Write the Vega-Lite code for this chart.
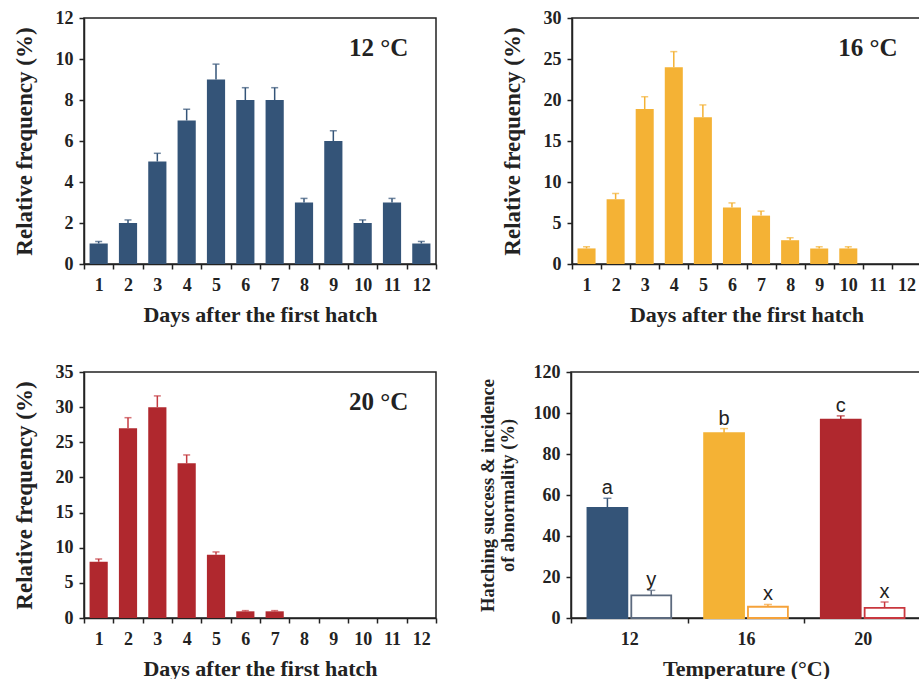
{
  "$schema": "https://vega.github.io/schema/vega-lite/v6.json",
  "padding": {"left": 12, "top": 8, "right": 0, "bottom": 0},
  "background": "white",
  "datasets": {
    "t12": [
      {"day": 1, "freq": 1, "upper": 1.1},
      {"day": 2, "freq": 2, "upper": 2.15},
      {"day": 3, "freq": 5, "upper": 5.4},
      {"day": 4, "freq": 7, "upper": 7.55},
      {"day": 5, "freq": 9, "upper": 9.75},
      {"day": 6, "freq": 8, "upper": 8.6},
      {"day": 7, "freq": 8, "upper": 8.6},
      {"day": 8, "freq": 3, "upper": 3.2},
      {"day": 9, "freq": 6, "upper": 6.5},
      {"day": 10, "freq": 2, "upper": 2.15},
      {"day": 11, "freq": 3, "upper": 3.2},
      {"day": 12, "freq": 1, "upper": 1.1}
    ],
    "t16": [
      {"day": 1, "freq": 1.9, "upper": 2.1},
      {"day": 2, "freq": 7.9, "upper": 8.6},
      {"day": 3, "freq": 18.9, "upper": 20.4},
      {"day": 4, "freq": 24, "upper": 25.9},
      {"day": 5, "freq": 17.9, "upper": 19.4},
      {"day": 6, "freq": 6.9, "upper": 7.45},
      {"day": 7, "freq": 5.9, "upper": 6.45},
      {"day": 8, "freq": 2.9, "upper": 3.2},
      {"day": 9, "freq": 1.9, "upper": 2.1},
      {"day": 10, "freq": 1.9, "upper": 2.1},
      {"day": 11, "freq": 0, "upper": 0},
      {"day": 12, "freq": 0, "upper": 0}
    ],
    "t20": [
      {"day": 1, "freq": 8, "upper": 8.4},
      {"day": 2, "freq": 27, "upper": 28.5},
      {"day": 3, "freq": 30, "upper": 31.6},
      {"day": 4, "freq": 22, "upper": 23.2},
      {"day": 5, "freq": 9, "upper": 9.4},
      {"day": 6, "freq": 0.95, "upper": 1.05},
      {"day": 7, "freq": 0.95, "upper": 1.05},
      {"day": 8, "freq": 0, "upper": 0},
      {"day": 9, "freq": 0, "upper": 0},
      {"day": 10, "freq": 0, "upper": 0},
      {"day": 11, "freq": 0, "upper": 0},
      {"day": 12, "freq": 0, "upper": 0}
    ],
    "hatch": [
      {"temp": 12, "grp": "success", "key": "12s", "value": 53.7, "upper": 58.4, "letter": "a"},
      {"temp": 12, "grp": "abnormal", "key": "12a", "value": 11, "upper": 13.5, "letter": "y"},
      {"temp": 16, "grp": "success", "key": "16s", "value": 90.2, "upper": 92.4, "letter": "b"},
      {"temp": 16, "grp": "abnormal", "key": "16a", "value": 5.5, "upper": 6.6, "letter": "x"},
      {"temp": 20, "grp": "success", "key": "20s", "value": 96.8, "upper": 98.6, "letter": "c"},
      {"temp": 20, "grp": "abnormal", "key": "20a", "value": 4.9, "upper": 7.8, "letter": "x"}
    ]
  },
  "vconcat": [
    {
      "spacing": 62,
      "hconcat": [
        {
          "width": 352, "height": 246,
          "view": {"stroke": "#222", "strokeWidth": 1.5},
          "data": {"name": "t12"},
          "encoding": {"x": {"field": "day", "type": "ordinal", "scale": {"paddingInner": 0, "paddingOuter": 0}, "axis": {"title": "Days after the first hatch"}}},
          "layer": [
            {"mark": {"type": "bar", "width": {"band": 0.62}, "color": "#345478"},
             "encoding": {"y": {"field": "freq", "type": "quantitative", "scale": {"domain": [0, 12], "nice": false}, "axis": {"title": "Relative frequency (%)", "values": [0, 2, 4, 6, 8, 10, 12], "labelOverlap": false}}}},
            {"transform": [{"filter": "datum.freq > 0"}], "mark": {"type": "rule", "color": "#345478", "strokeWidth": 1.5},
             "encoding": {"y": {"field": "freq", "type": "quantitative"}, "y2": {"field": "upper"}}},
            {"transform": [{"filter": "datum.freq > 0"}], "mark": {"type": "tick", "color": "#345478", "size": 7, "thickness": 1.5},
             "encoding": {"y": {"field": "upper", "type": "quantitative"}}},
            {"data": {"values": [{"lab": "12 °C"}]}, "mark": {"type": "text", "font": "Liberation Serif", "fontWeight": "bold", "fontSize": 25, "align": "right", "baseline": "middle", "dx": -13, "color": "#222"},
             "encoding": {"x": {"datum": 12, "type": "ordinal"}, "y": {"datum": 10.55, "type": "quantitative"}, "text": {"field": "lab"}}}
          ]
        },
        {
          "width": 349, "height": 246,
          "view": {"stroke": "#222", "strokeWidth": 1.5},
          "data": {"name": "t16"},
          "encoding": {"x": {"field": "day", "type": "ordinal", "scale": {"paddingInner": 0, "paddingOuter": 0}, "axis": {"title": "Days after the first hatch"}}},
          "layer": [
            {"mark": {"type": "bar", "width": {"band": 0.62}, "color": "#F4B235"},
             "encoding": {"y": {"field": "freq", "type": "quantitative", "scale": {"domain": [0, 30], "nice": false}, "axis": {"title": "Relative frequency (%)", "values": [0, 5, 10, 15, 20, 25, 30], "labelOverlap": false}}}},
            {"transform": [{"filter": "datum.freq > 0"}], "mark": {"type": "rule", "color": "#F4B235", "strokeWidth": 1.5},
             "encoding": {"y": {"field": "freq", "type": "quantitative"}, "y2": {"field": "upper"}}},
            {"transform": [{"filter": "datum.freq > 0"}], "mark": {"type": "tick", "color": "#F4B235", "size": 7, "thickness": 1.5},
             "encoding": {"y": {"field": "upper", "type": "quantitative"}}},
            {"data": {"values": [{"lab": "16 °C"}]}, "mark": {"type": "text", "font": "Liberation Serif", "fontWeight": "bold", "fontSize": 25, "align": "right", "baseline": "middle", "dx": -9, "color": "#222"},
             "encoding": {"x": {"datum": 12, "type": "ordinal"}, "y": {"datum": 26.35, "type": "quantitative"}, "text": {"field": "lab"}}}
          ]
        }
      ]
    },
    {
      "spacing": 39,
      "hconcat": [
        {
          "width": 352, "height": 246,
          "view": {"stroke": "#222", "strokeWidth": 1.5},
          "data": {"name": "t20"},
          "encoding": {"x": {"field": "day", "type": "ordinal", "scale": {"paddingInner": 0, "paddingOuter": 0}, "axis": {"title": "Days after the first hatch"}}},
          "layer": [
            {"mark": {"type": "bar", "width": {"band": 0.62}, "color": "#B0282E"},
             "encoding": {"y": {"field": "freq", "type": "quantitative", "scale": {"domain": [0, 35], "nice": false}, "axis": {"title": "Relative frequency (%)", "tickCount": 8, "labelOverlap": false, "labelSeparation": 0}}}},
            {"transform": [{"filter": "datum.freq > 0"}], "mark": {"type": "rule", "color": "#C43A40", "strokeWidth": 1.5},
             "encoding": {"y": {"field": "freq", "type": "quantitative"}, "y2": {"field": "upper"}}},
            {"transform": [{"filter": "datum.freq > 0"}], "mark": {"type": "tick", "color": "#C43A40", "size": 7, "thickness": 1.5},
             "encoding": {"y": {"field": "upper", "type": "quantitative"}}},
            {"data": {"values": [{"lab": "20 °C"}]}, "mark": {"type": "text", "font": "Liberation Serif", "fontWeight": "bold", "fontSize": 25, "align": "right", "baseline": "middle", "dx": -13, "color": "#222"},
             "encoding": {"x": {"datum": 12, "type": "ordinal"}, "y": {"datum": 30.7, "type": "quantitative"}, "text": {"field": "lab"}}}
          ]
        },
        {
          "width": 350, "height": 246,
          "view": {"stroke": "#222", "strokeWidth": 1.5},
          "data": {"name": "hatch"},
          "encoding": {
            "x": {"field": "temp", "type": "ordinal", "scale": {"paddingInner": 0, "paddingOuter": 0}, "axis": {"title": "Temperature (°C)"}},
            "xOffset": {"field": "grp", "type": "nominal", "sort": ["success", "abnormal"], "scale": {"paddingInner": 0.09, "paddingOuter": 0.375}}
          },
          "layer": [
            {"mark": {"type": "bar", "strokeWidth": 1.8},
             "encoding": {
               "y": {"field": "value", "type": "quantitative", "scale": {"domain": [0, 120], "nice": false}, "axis": {"title": ["Hatching success & incidence", "of abnormality (%)"], "titleFontSize": 18.5, "titleLineHeight": 20, "minExtent": 38, "maxExtent": 38, "titlePadding": 16, "values": [0, 20, 40, 60, 80, 100, 120], "labelOverlap": false}},
               "fill": {"field": "key", "type": "nominal", "legend": null, "scale": {"domain": ["12s", "12a", "16s", "16a", "20s", "20a"], "range": ["#345478", "#FFFFFF", "#F4B235", "#FFFFFF", "#B0282E", "#FFFFFF"]}},
               "stroke": {"field": "key", "type": "nominal", "legend": null, "scale": {"domain": ["12s", "12a", "16s", "16a", "20s", "20a"], "range": ["#345478", "#5C6A7E", "#F4B235", "#F5A23A", "#B0282E", "#C9373E"]}}
             }},
            {"mark": {"type": "rule", "strokeWidth": 1.5},
             "encoding": {"y": {"field": "value", "type": "quantitative"}, "y2": {"field": "upper"},
               "stroke": {"field": "key", "type": "nominal", "legend": null}}},
            {"mark": {"type": "tick", "size": 8, "thickness": 1.5},
             "encoding": {"y": {"field": "upper", "type": "quantitative"},
               "color": {"field": "key", "type": "nominal", "legend": null, "scale": {"domain": ["12s", "12a", "16s", "16a", "20s", "20a"], "range": ["#345478", "#5C6A7E", "#F4B235", "#F5A23A", "#B0282E", "#C9373E"]}}}},
            {"mark": {"type": "text", "font": "Liberation Sans", "fontSize": 20, "baseline": "alphabetic", "dy": -4, "color": "#222"},
             "encoding": {"y": {"field": "upper", "type": "quantitative"}, "text": {"field": "letter"}}}
          ]
        }
      ]
    }
  ],
  "spacing": 36,
  "config": {
    "font": "Liberation Serif",
    "view": {"stroke": "#222", "strokeWidth": 1.5},
    "axis": {
      "labelFont": "Liberation Serif", "labelFontWeight": "bold", "labelFontSize": 18, "labelColor": "#222", "labelOverlap": false,
      "titleFont": "Liberation Serif", "titleFontWeight": "bold", "titleFontSize": 22, "titleColor": "#222",
      "domainColor": "#222", "domainWidth": 1.5, "tickColor": "#222", "tickWidth": 1.5, "tickSize": 5, "grid": false
    },
    "axisQuantitative": {"labelOverlap": false},
    "axisX": {"labelAngle": 0, "tickBand": "extent", "labelPadding": 7, "titlePadding": 10},
    "axisY": {"labelPadding": 6, "titlePadding": 14, "minExtent": 34, "maxExtent": 34, "titleFontSize": 23}
  }
}
